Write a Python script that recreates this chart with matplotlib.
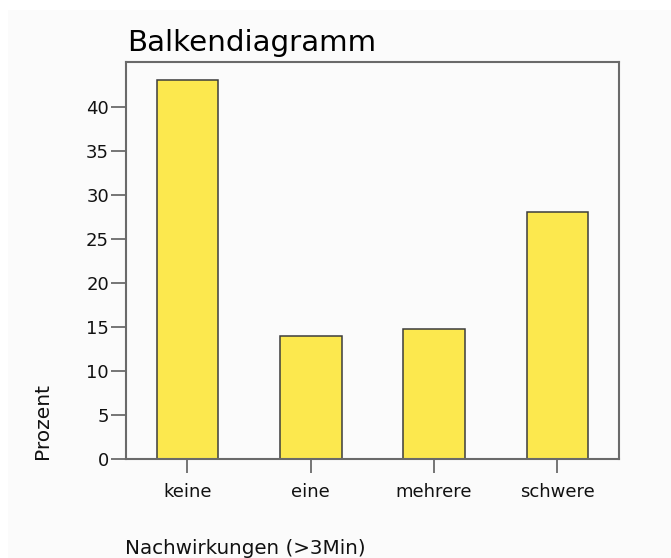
import matplotlib
matplotlib.use("Agg")
from matplotlib import pyplot as plt
from matplotlib.patches import Rectangle

# data
kategorien = ["keine", "eine", "mehrere", "schwere"]
prozent = [43.1, 14.0, 14.8, 28.1]
y_ticks = [0, 5, 10, 15, 20, 25, 30, 35, 40]

W, H = 671, 558
fig = plt.figure(figsize=(W / 100, H / 100), dpi=100)
fig.patch.set_facecolor("white")
# light grey panel behind the chart like the SPSS output
fig.patches.append(Rectangle((8 / W, 0), 1 - 8 / W, 1 - 10 / H,
                             transform=fig.transFigure, facecolor="#fbfbfb",
                             edgecolor="none", zorder=-10))

ax = fig.add_axes([125.7 / W, 1 - 459 / H, (619 - 125.7) / W, (459 - 62) / H])
ax.set_zorder(5)
ax.set_facecolor("#fbfbfb")

x = range(len(kategorien))
ax.bar(x, prozent, width=0.5, color="#fce84e", edgecolor="#3c3c3c", linewidth=1.1, zorder=2)

ax.set_xlim(-0.5, 3.5)
ax.set_ylim(0, 45.1)
ax.set_yticks(y_ticks)
ax.set_xticks(list(x))
ax.set_xticklabels(kategorien)

for s in ax.spines.values():
    s.set_color("#6a6a6a")
    s.set_linewidth(1.5)

ax.tick_params(axis="y", direction="out", length=11, width=1.3, color="#6a6a6a",
               pad=1, labelsize=13, labelcolor="#111111")
ax.tick_params(axis="x", direction="out", length=10, width=1.3, color="#6a6a6a",
               pad=7, labelsize=13, labelcolor="#111111")

fig.text(127 / W, 1 - 51 / H, "Balkendiagramm", fontsize=21.2, color="black",
         ha="left", va="baseline")
fig.text(43 / W, 1 - 459 / H, "Prozent", fontsize=14.5, rotation=90,
         ha="center", va="bottom", color="#111111")
fig.text(125 / W, 1 - 549 / H, "Nachwirkungen (>3Min)", fontsize=14.3,
         ha="left", va="center", color="#111111")

fig.savefig("out.png", dpi=100, facecolor=fig.get_facecolor())
